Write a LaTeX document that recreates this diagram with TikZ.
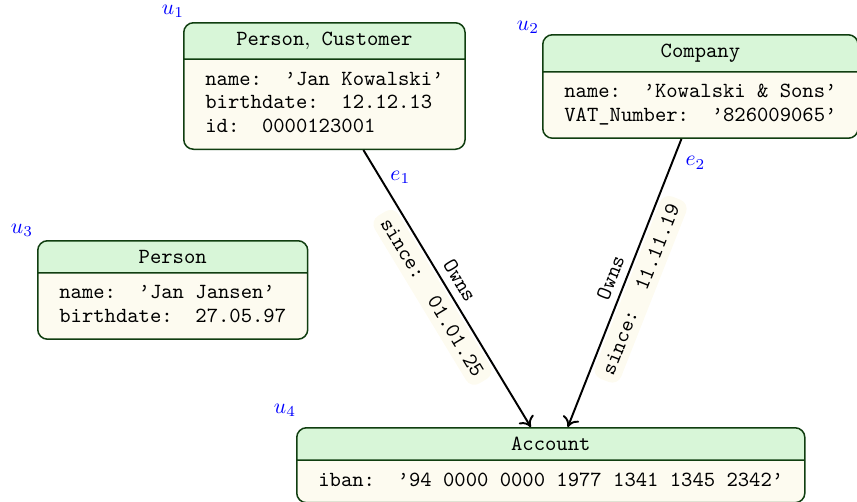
\documentclass[tikz,border=0pt]{standalone}
\usetikzlibrary{shapes.multipart,calc,arrows.meta}
\definecolor{hdrfill}{RGB}{216,246,216}
\definecolor{bodyfill}{RGB}{253,251,240}
\definecolor{bordc}{RGB}{16,62,16}
\newcommand{\entrows}[1]{\renewcommand{\arraystretch}{0.9167}\begin{tabular}{@{}l@{}}#1\end{tabular}}
\begin{document}
\begin{tikzpicture}[x=0.463pt,y=-0.463pt,
  entity/.style={rectangle split, rectangle split parts=2, draw=bordc, line width=0.7pt,
    rounded corners=4.5pt, rectangle split part fill={hdrfill,bodyfill},
    inner xsep=10pt, inner ysep=4pt, font=\ttfamily, anchor=north west},
  ulab/.style={text=blue},
  rel/.style={-{To[length=4.5pt,width=8pt]}, line width=0.9pt},
  relname/.style={above, sloped, font=\ttfamily},
  relprop/.style={below=1pt, sloped, font=\ttfamily, fill=bodyfill, rounded corners=4.5pt},
  elab/.style={text=blue}]
\useasboundingbox (0,0) rectangle (857,501);
\node[entity] (u1) at (183,22) {Person$,$ Customer\nodepart{two}\entrows{name:\ \ ’Jan Kowalski’\\birthdate:\ \ 12.12.13\\id:\ \ 0000123001}};
\node[entity] (u2) at (542,34) {Company\nodepart{two}\entrows{name:\ \ ’Kowalski \& Sons’\\VAT\_Number:\ \ ’826009065’}};
\node[entity] (u3) at (37,240) {Person\nodepart{two}\entrows{name:\ \ ’Jan Jansen’\\birthdate:\ \ 27.05.97}};
\node[entity] (u4) at (296,427) {Account\nodepart{two}\entrows{iban:\ \ ’94 0000 0000 1977 1341 1345 2342’}};
\node[ulab] (lu1) at (173,11) {$u_1$};
\node[ulab] (lu2) at (528,27) {$u_2$};
\node[ulab] (lu3) at (22,230) {$u_3$};
\node[ulab] (lu4) at (285,410) {$u_4$};
\draw[rel] ($(u1.south)+(39,0)$) --
  node[relname, pos=0.5] (o1) {Owns}
  node[relprop, pos=0.5] (s1) {since:\ \ 01.01.25}
  node[elab, pos=0.1, right=1pt] (le1) {$e_1$}
  ($(u4.north)+(-20,0)$);
\draw[rel] ($(u2.south)+(-19,0)$) --
  node[relname, pos=0.5] (o2) {Owns}
  node[relprop, pos=0.5] (s2) {since:\ \ 11.11.19}
  node[elab, pos=0.083, right=2.5pt] (le2) {$e_2$}
  ($(u4.north)+(17,0)$);
\end{tikzpicture}
\end{document}
